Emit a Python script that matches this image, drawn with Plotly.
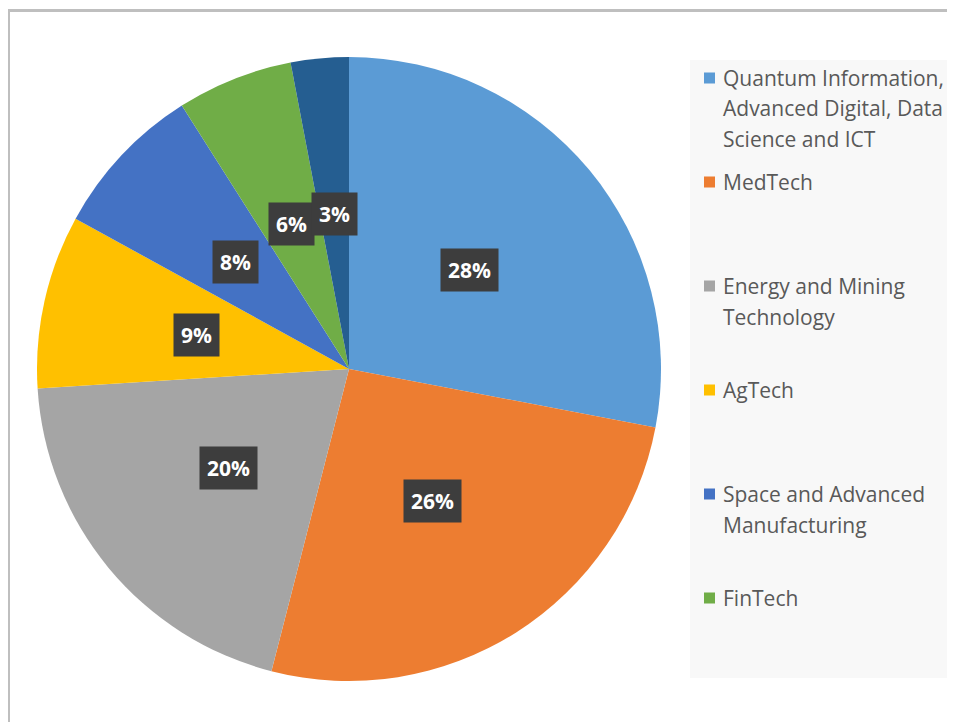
import math
import plotly.graph_objects as go

# sector shares (%) – clockwise from 12 o'clock
sectors = ["Quantum Information, Advanced Digital, Data Science and ICT",
           "MedTech", "Energy and Mining Technology", "AgTech",
           "Space and Advanced Manufacturing", "FinTech", "Other"]
shares = [28, 26, 20, 9, 8, 6, 3]
colors = ["#5B9BD5", "#ED7D31", "#A5A5A5", "#FFC000", "#4472C4", "#70AD47", "#255E91"]

# legend text as shown (wrapped), last slice has no legend entry
legend_text = ["Quantum Information,<br>Advanced Digital, Data<br>Science and ICT",
               "MedTech",
               "Energy and Mining<br>Technology",
               "AgTech",
               "Space and Advanced<br>Manufacturing",
               "FinTech"]

OFF = 8  # page body margin
W, H = 955 - OFF, 722 - OFF
cx, cy, R = 349 - OFF, 369 - OFF, 312  # pie centre / radius in px (from top)

fig = go.Figure()
fig.add_trace(go.Pie(
    labels=sectors, values=shares, sort=False, direction="clockwise", rotation=0,
    marker=dict(colors=colors, line=dict(width=0)),
    textinfo="none", hoverinfo="label+percent", showlegend=False,
    domain=dict(x=[(cx - R) / W, (cx + R) / W],
                y=[(H - cy - R) / H, (H - cy + R) / H]),
))

annotations = []
# dark percentage boxes half way out along each slice's middle angle
cum = 0
total = sum(shares)
for v in shares:
    mid = (cum + v / 2) / total
    cum += v
    th = 2 * math.pi * mid
    px_ = cx + 0.5 * R * math.sin(th)
    py_ = cy - 0.5 * R * math.cos(th)
    annotations.append(dict(
        x=px_ / W, y=1 - py_ / H, xref="paper", yref="paper",
        text=f"<b>{v}%</b>", showarrow=False, bgcolor="#3d3d3d", borderpad=7,
        font=dict(family="Open Sans", size=21, color="white"),
        xanchor="center", yanchor="middle"))

def px(x):
    return (x - OFF) / W

def py(y):
    return 1 - (y - OFF) / H

shapes = [
    # outer frame
    dict(type="rect", xref="paper", yref="paper", x0=px(8.5), x1=1.05, y0=-0.05, y1=py(10.5),
         line=dict(color="#BFBFBF", width=3), fillcolor="rgba(0,0,0,0)", layer="below"),
    # legend panel
    dict(type="rect", xref="paper", yref="paper", x0=px(690), x1=px(952),
         y0=py(678), y1=py(60), line=dict(width=0), fillcolor="#F8F8F8", layer="below"),
]

for i, txt in enumerate(legend_text):
    y0 = 78 + i * 104
    shapes.append(dict(type="rect", xref="paper", yref="paper",
                       x0=px(704), x1=px(715), y0=py(y0 + 5.5), y1=py(y0 - 5.5),
                       line=dict(width=0), fillcolor=colors[i]))
    for j, line in enumerate(txt.split("<br>")):
        annotations.append(dict(
            x=px(721), y=py(y0 + 30.5 * j), xref="paper", yref="paper",
            text=line, showarrow=False, xanchor="left", yanchor="middle",
            font=dict(family="Open Sans", size=21, color="#595959")))

fig.update_layout(
    width=W, height=H, margin=dict(l=0, r=0, t=0, b=0),
    paper_bgcolor="white", plot_bgcolor="white",
    annotations=annotations, shapes=shapes,
)

fig.write_html("out.html")
